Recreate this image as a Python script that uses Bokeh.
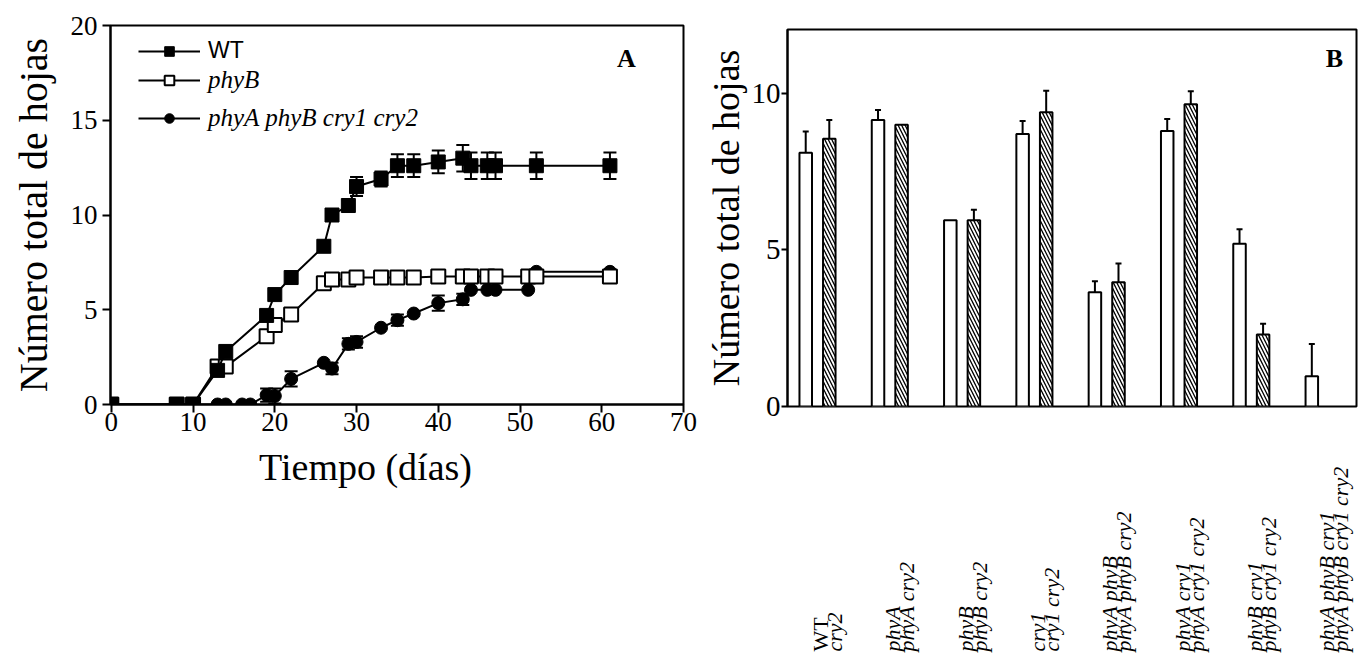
import numpy as np
from bokeh.plotting import figure
from bokeh.layouts import row, column
from bokeh.models import (ColumnDataSource, Range1d, FixedTicker, Whisker, TeeHead,
                          Legend, LegendItem, Label)
from bokeh.core.properties import value, field
from bokeh.transform import dodge
from bokeh.embed import file_html
from bokeh.resources import INLINE

# ---------------- Panel A data ----------------
wt_day = [0, 8, 10, 13, 14, 19, 20, 22, 26, 27, 29, 30, 33, 35, 37, 40, 43, 44, 46, 47, 52, 61]
wt_val = [0, 0, 0, 1.8, 2.8, 4.7, 5.8, 6.7, 8.35, 10.0, 10.5, 11.5, 11.9, 12.6, 12.6, 12.8, 13.0, 12.6, 12.6, 12.6, 12.6, 12.6]
wt_err = [0, 0, 0, 0, 0, 0, 0, 0, 0, 0, 0.3, 0.5, 0.4, 0.6, 0.6, 0.6, 0.7, 0.7, 0.7, 0.7, 0.7, 0.7]

phyb_day = [0, 8, 10, 13, 14, 19, 20, 22, 26, 27, 29, 30, 33, 35, 37, 40, 43, 44, 46, 47, 51, 52, 61]
phyb_val = [0, 0, 0, 2.0, 2.0, 3.6, 4.2, 4.75, 6.4, 6.6, 6.6, 6.7, 6.7, 6.7, 6.7, 6.75, 6.75, 6.75, 6.75, 6.75, 6.75, 6.75, 6.75]

quad_day = [0, 13, 14, 16, 17, 19, 20, 22, 26, 27, 29, 30, 33, 35, 37, 40, 43, 44, 46, 47, 51, 52, 61]
quad_val = [0, 0, 0, 0, 0, 0.5, 0.45, 1.35, 2.2, 1.9, 3.2, 3.3, 4.05, 4.45, 4.8, 5.35, 5.55, 6.05, 6.05, 6.05, 6.05, 7.0, 7.0]
quad_err = [0, 0, 0, 0, 0, 0.35, 0.4, 0.4, 0, 0.3, 0.3, 0.3, 0, 0.3, 0, 0.4, 0.3, 0, 0, 0, 0, 0, 0]

x_ticks_a = [0, 10, 20, 30, 40, 50, 60, 70]
y_ticks_a = [0, 5, 10, 15, 20]
x_title_a = "Tiempo (días)"
y_title = "Número total de hojas"

# ---------------- Panel B data ----------------
genotype_line1 = ["WT", "phyA", "phyB", "cry1", "phyA phyB", "phyA cry1", "phyB cry1", "phyA phyB cry1"]
genotype_line2 = ["cry2", "phyA cry2", "phyB cry2", "cry1 cry2", "phyA phyB cry2", "phyA cry1 cry2", "phyB cry1 cry2", "phyA phyB cry1 cry2"]
open_vals = [8.1, 9.15, 5.95, 8.7, 3.65, 8.8, 5.2, 0.97]
open_err = [0.68, 0.32, 0.0, 0.42, 0.35, 0.38, 0.46, 1.03]
hatch_vals = [8.55, 9.0, 5.95, 9.4, 3.97, 9.65, 2.3, None]
hatch_err = [0.6, 0.0, 0.33, 0.68, 0.6, 0.42, 0.34, 0.0]
y_ticks_b = [0, 5, 10]

SERIF = "Liberation Serif"
H = 657
HA = 445   # height of the panel-A plot part
HB = 440   # height of the panel-B plot part

# ================= Panel A =================
xr_a = Range1d(-0.1, 70)
pA = figure(width=700, height=HA, output_backend="svg", toolbar_location=None,
            x_range=xr_a, y_range=Range1d(0, 20),
            min_border_left=110, min_border_right=17, min_border_top=25, min_border_bottom=HA - 404)
pA.grid.visible = False
pA.outline_line_color = "black"
pA.outline_line_width = 2
pA.background_fill_color = "white"
pA.border_fill_color = "white"

for ax in (pA.xaxis[0], pA.yaxis[0]):
    ax.axis_line_width = 2
    ax.major_tick_line_width = 2
    ax.major_tick_in = 0
    ax.major_tick_out = 8
    ax.minor_tick_line_color = None
    ax.major_label_text_font = SERIF
    ax.major_label_text_font_size = "27px"
    ax.major_label_text_color = "black"
    ax.axis_label_text_font = SERIF
    ax.axis_label_text_font_style = "normal"
    ax.axis_label_text_color = "black"
pA.xaxis.ticker = FixedTicker(ticks=x_ticks_a)
pA.yaxis.ticker = FixedTicker(ticks=y_ticks_a)
pA.yaxis.axis_label = y_title
pA.yaxis.axis_label_text_font_size = "40px"
pA.xaxis.major_label_standoff = 0
pA.yaxis.major_label_standoff = 5
pA.yaxis.axis_label_standoff = 12

def whiskers(p, xs, ys, es, head=13, only_up=False):
    sel = [i for i, e in enumerate(es) if e and e > 0]
    src = ColumnDataSource(dict(
        x=[xs[i] for i in sel],
        lo=[ys[i] if only_up else ys[i] - es[i] for i in sel],
        hi=[ys[i] + es[i] for i in sel]))
    w = Whisker(base="x", lower="lo", upper="hi", source=src,
                line_color="black", line_width=2,
                upper_head=TeeHead(size=head, line_width=2, line_color="black"),
                lower_head=None if only_up else TeeHead(size=head, line_width=2, line_color="black"))
    p.add_layout(w)

# quad mutant
q_line = pA.line(quad_day, quad_val, line_color="black", line_width=2)
whiskers(pA, quad_day, quad_val, quad_err)
q_mark = pA.scatter(quad_day, quad_val, marker="circle", size=13, fill_color="black", line_color="black")
# phyB
b_line = pA.line(phyb_day, phyb_val, line_color="black", line_width=2)
b_mark = pA.scatter(phyb_day, phyb_val, marker="square", size=14, fill_color="white",
                    line_color="black", line_width=2)
# WT
w_line = pA.line(wt_day, wt_val, line_color="black", line_width=2)
whiskers(pA, wt_day, wt_val, wt_err)
w_mark = pA.scatter(wt_day, wt_val, marker="square", size=14, fill_color="black", line_color="black")

# legend positions are measured from the frame's bottom-left corner
leg1 = Legend(items=[LegendItem(label="WT", renderers=[w_line, w_mark])],
              location=(28, 340), orientation="vertical",
              glyph_width=62, glyph_height=24, label_height=24, label_standoff=8,
              padding=0, margin=0, spacing=10, border_line_color=None,
              background_fill_alpha=0, label_text_font="Liberation Sans",
              label_text_font_size="23px", label_text_color="black")
leg2 = Legend(items=[LegendItem(label="phyB", renderers=[b_line, b_mark]),
                     LegendItem(label="phyA phyB cry1 cry2", renderers=[q_line, q_mark])],
              location=(28, 272), orientation="vertical",
              glyph_width=62, glyph_height=24, label_height=24, label_standoff=8,
              padding=0, margin=0, spacing=10, border_line_color=None,
              background_fill_alpha=0, label_text_font=SERIF, label_text_font_style="italic",
              label_text_font_size="25px", label_text_color="black")
pA.add_layout(leg1)
pA.add_layout(leg2)
pA.add_layout(Label(x=63, y=18.26, text="A", text_font=SERIF, text_font_style="bold",
                    text_font_size="26px", text_align="center", text_baseline="middle",
                    text_color="black"))

# strip below panel A carrying its x-axis title (shares the x range)
pAt = figure(width=700, height=H - HA, output_backend="svg", toolbar_location=None,
             x_range=xr_a, y_range=Range1d(0, H - HA),
             min_border_left=110, min_border_right=17, min_border_top=0, min_border_bottom=0)
pAt.axis.visible = False
pAt.grid.visible = False
pAt.outline_line_color = None
pAt.background_fill_color = "white"
pAt.border_fill_color = "white"
pAt.text(x=[31.1], y=[(H - HA) - 21], text=[x_title_a], text_align="center",
         text_baseline="middle", text_font=value(SERIF), text_font_size="38px",
         text_color="black")

# ================= Panel B =================
xr_b = Range1d(-0.415, 7.455)
pB = figure(width=664, height=HB, output_backend="svg", toolbar_location=None,
            x_range=xr_b, y_range=Range1d(0, 12.04),
            min_border_left=87, min_border_right=8, min_border_top=29, min_border_bottom=HB - 406)
pB.grid.visible = False
pB.outline_line_color = "black"
pB.outline_line_width = 2
pB.background_fill_color = "white"
pB.border_fill_color = "white"
pB.xaxis.visible = False
ay = pB.yaxis[0]
ay.axis_line_width = 2
ay.major_tick_line_width = 2
ay.major_tick_in = 0
ay.major_tick_out = 6
ay.minor_tick_line_color = None
ay.ticker = FixedTicker(ticks=y_ticks_b)
ay.major_label_text_font = SERIF
ay.major_label_text_font_size = "29px"
ay.major_label_text_color = "black"
ay.major_label_standoff = 1
ay.axis_label = y_title
ay.axis_label_text_font = SERIF
ay.axis_label_text_font_size = "38px"
ay.axis_label_text_font_style = "normal"
ay.axis_label_text_color = "black"
ay.axis_label_standoff = 2

idx = list(range(len(genotype_line1)))
src_open = ColumnDataSource(dict(x=idx, top=open_vals))
pB.vbar(x=dodge("x", -0.163), top="top", width=0.173, source=src_open,
        fill_color="white", line_color="black", line_width=2)
h_idx = [i for i in idx if hatch_vals[i] is not None]
src_h = ColumnDataSource(dict(x=h_idx, top=[hatch_vals[i] for i in h_idx]))
pB.vbar(x=dodge("x", 0.163), top="top", width=0.173, source=src_h,
        fill_color="white", line_color="black", line_width=2,
        hatch_pattern="\\", hatch_color="black", hatch_scale=7, hatch_weight=1.3)

whiskers(pB, [i - 0.163 for i in idx], open_vals, open_err, head=6, only_up=True)
whiskers(pB, [i + 0.163 for i in h_idx], [hatch_vals[i] for i in h_idx],
         [hatch_err[i] for i in h_idx], head=6, only_up=True)
pB.add_layout(Label(x=7.15, y=11.1, text="B", text_font=SERIF, text_font_style="bold",
                    text_font_size="26px", text_align="center", text_baseline="middle",
                    text_color="black"))

# category labels strip below panel B (shares the x range)
pL = figure(width=664, height=H - HB, output_backend="svg", toolbar_location=None,
            x_range=xr_b, y_range=Range1d(0, H - HB),
            min_border_left=87, min_border_right=8, min_border_top=0, min_border_bottom=0)
pL.axis.visible = False
pL.grid.visible = False
pL.outline_line_color = None
pL.background_fill_color = "white"
pL.border_fill_color = "white"
lab_src = ColumnDataSource(dict(
    x=idx, y=[6] * len(idx), l1=genotype_line1, l2=genotype_line2,
    s1=["normal"] + ["italic"] * (len(idx) - 1)))
pL.text(x="x", y="y", text="l1", source=lab_src, angle=np.pi / 2, x_offset=3,
        text_align="left", text_baseline="middle", text_font=value(SERIF),
        text_font_style=field("s1"), text_font_size="22px", text_color="black")
pL.text(x="x", y="y", text="l2", source=lab_src, angle=np.pi / 2, x_offset=17,
        text_align="left", text_baseline="middle", text_font=value(SERIF),
        text_font_style="italic", text_font_size="22px", text_color="black")

layout = row(column(pA, pAt, spacing=0), column(pB, pL, spacing=0), spacing=0)
open("out.html", "w").write(file_html(layout, INLINE))
